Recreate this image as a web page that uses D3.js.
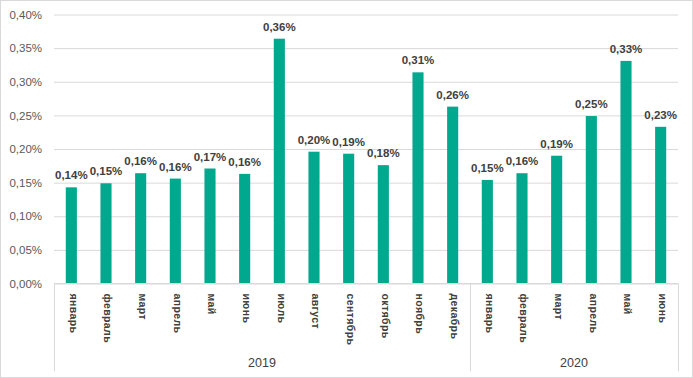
<!DOCTYPE html>
<html>
<head>
<meta charset="utf-8">
<script src="https://cdn.jsdelivr.net/npm/d3@7"></script>
<style>
  html, body { margin: 0; padding: 0; background: #fff; }
  svg { display: block; }
</style>
</head>
<body>
<svg id="chart" width="693" height="378"></svg>
<script>
// ---- data ----
const years = ["2019", "2020"];
const months2019 = ["январь","февраль","март","апрель","май","июнь","июль","август","сентябрь","октябрь","ноябрь","декабрь"];
const months2020 = ["январь","февраль","март","апрель","май","июнь"];
const values2019 = [0.143, 0.149, 0.164, 0.156, 0.171, 0.163, 0.364, 0.196, 0.193, 0.176, 0.314, 0.263];
const values2020 = [0.154, 0.164, 0.190, 0.249, 0.331, 0.233];
const yTicks = [0, 0.05, 0.10, 0.15, 0.20, 0.25, 0.30, 0.35, 0.40];

// build table
const data = [];
months2019.forEach((m, i) => data.push({ year: years[0], month: m, value: values2019[i] }));
months2020.forEach((m, i) => data.push({ year: years[1], month: m, value: values2020[i] }));
data.forEach((d, i) => d.idx = i);

(function () {
const svg = d3.select("#chart");
const W = 693, H = 378;
const pLeft = 54, pRight = 678, pTop = 14.5, pBottom = 283.5;
const textColor = "#404040";
const gridColor = "#d9d9d9";
const barColor = "#00A88E";

// outer border
svg.append("rect").attr("x", 0.5).attr("y", 0.5).attr("width", W - 1).attr("height", H - 1)
  .attr("fill", "#fff").attr("stroke", gridColor);

const x = d3.scaleBand().domain(data.map(d => d.idx)).range([pLeft, pRight])
  .paddingInner(0.68).paddingOuter(0.34);
const y = d3.scaleLinear().domain([0, 0.4]).range([pBottom, pTop]);

const fmt = v => d3.format(".2f")(v).replace(".", ",") + "%";

// y axis with gridlines
const yAxis = svg.append("g").attr("transform", `translate(${pLeft},0)`)
  .call(d3.axisLeft(y).tickValues(yTicks).tickFormat(fmt).tickSize(-(pRight - pLeft)).tickPadding(12));
yAxis.select(".domain").remove();
yAxis.selectAll(".tick line").attr("stroke", gridColor);
yAxis.selectAll(".tick text").attr("fill", "#595959")
  .style("font-family", "'Liberation Sans', Arial, sans-serif").style("font-size", "11.5px");

// bars
svg.append("g").selectAll("rect").data(data).join("rect")
  .attr("x", d => x(d.idx)).attr("width", x.bandwidth())
  .attr("y", d => y(d.value)).attr("height", d => y(0) - y(d.value))
  .attr("fill", barColor);

// value labels
svg.append("g").selectAll("text").data(data).join("text")
  .attr("x", d => x(d.idx) + x.bandwidth() / 2)
  .attr("y", d => y(d.value) - 8)
  .attr("text-anchor", "middle")
  .attr("fill", textColor)
  .style("font-family", "'Liberation Sans', Arial, sans-serif")
  .style("font-size", "11.5px").style("font-weight", "bold")
  .text(d => fmt(d.value));

// bottom axis (months)
const xAxis = svg.append("g").attr("transform", `translate(0,${pBottom})`)
  .call(d3.axisBottom(x).tickSize(0).tickFormat(i => data[i].month));
xAxis.select(".domain").attr("stroke", gridColor).attr("d", `M${pLeft},0H${pRight}`);
xAxis.selectAll(".tick text")
  .attr("transform", "translate(2,10) rotate(90)")
  .attr("x", 0).attr("y", 0).attr("dy", "0.35em")
  .attr("text-anchor", "start")
  .attr("fill", textColor)
  .style("font-family", "'Liberation Sans', Arial, sans-serif")
  .style("font-size", "10.5px").style("font-weight", "bold")
  .style("letter-spacing", "0.4px");

// group separators and year labels
const groups = years.map(yr => {
  const items = data.filter(d => d.year === yr);
  const x0 = x(items[0].idx) - x.step() * x.paddingInner() / 2;
  const x1 = x(items[items.length - 1].idx) + x.bandwidth() + x.step() * x.paddingInner() / 2;
  return { year: yr, x0, x1 };
});
const sepX = [pLeft].concat(groups.map(g => g.x1));
sepX[sepX.length - 1] = pRight;
svg.append("g").selectAll("line").data(sepX).join("line")
  .attr("x1", d => Math.round(d) + 0.5).attr("x2", d => Math.round(d) + 0.5)
  .attr("y1", pBottom).attr("y2", 371)
  .attr("stroke", gridColor);

svg.append("g").selectAll("text").data(groups).join("text")
  .attr("x", g => (g.x0 + g.x1) / 2).attr("y", 367)
  .attr("text-anchor", "middle").attr("fill", textColor)
  .style("font-family", "'Liberation Sans', Arial, sans-serif").style("font-size", "12.5px")
  .text(g => g.year);
})();
</script>
</body>
</html>
